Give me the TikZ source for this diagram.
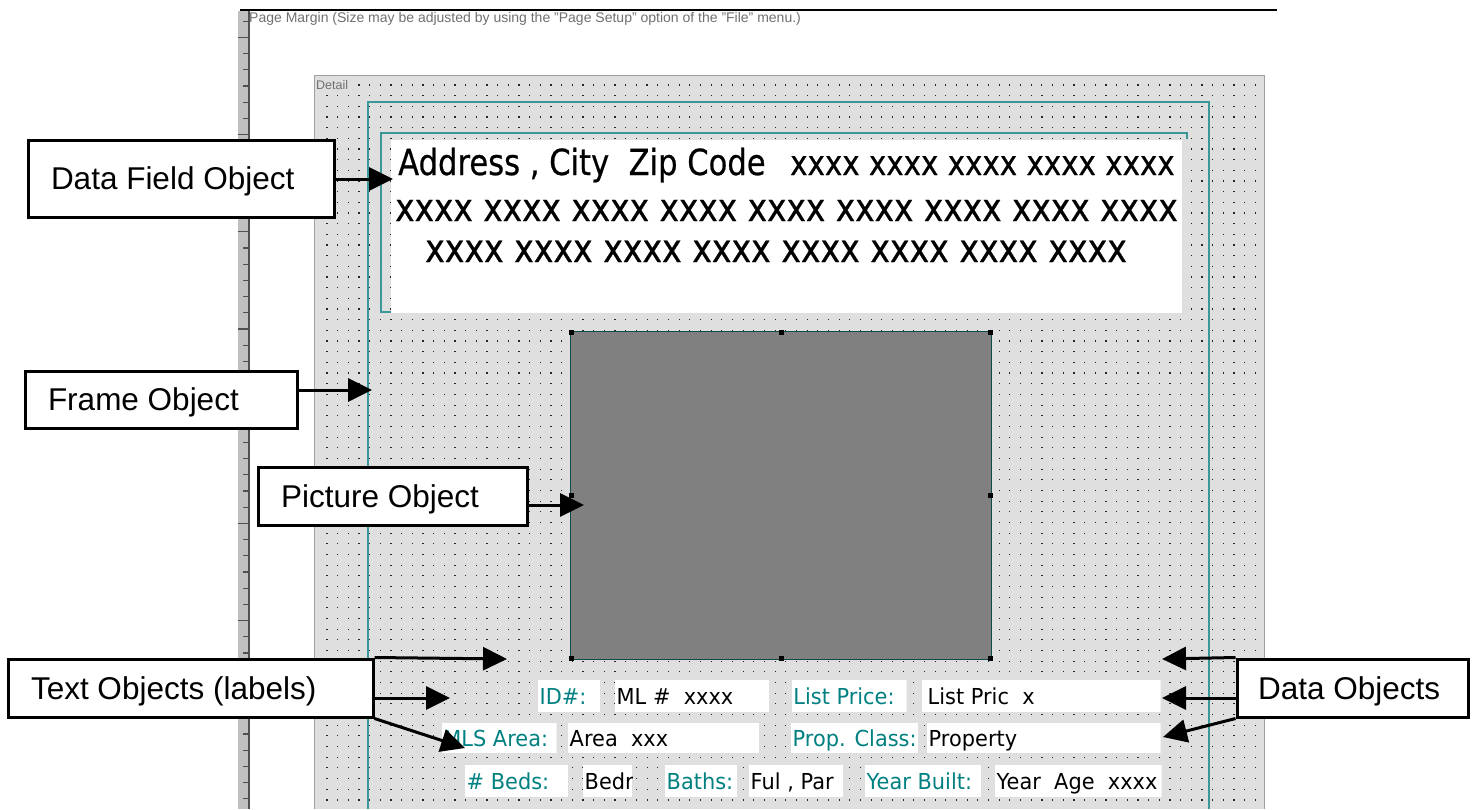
\documentclass[tikz,border=0pt]{standalone}
\usepackage{fontspec}
\usepackage{graphicx}
\setmainfont{Liberation Sans}
\newfontfamily\tah{DejaVu Sans}
\newfontfamily\tahb[FakeBold=0.6]{DejaVu Sans}
\usetikzlibrary{arrows.meta,calc}
\definecolor{tealtxt}{HTML}{008080}
\definecolor{frameteal}{HTML}{3A9898}
\definecolor{detailbg}{HTML}{DFDFDF}
\definecolor{detailborder}{HTML}{A0A0A0}
\definecolor{rulergray}{HTML}{C0C0C0}
\definecolor{rulerdark}{HTML}{505050}
\definecolor{uigray}{HTML}{707070}
\definecolor{picgray}{HTML}{808080}
\definecolor{picborder}{HTML}{0A4A4A}
\tikzset{
  dotrow/.style={draw=black!85, line width=1.2pt, dash pattern=on 1.2pt off 9.47pt},
  frameline/.style={draw=frameteal, line width=1.5pt},
  callout/.style={draw=black, line width=3pt, fill=white, inner xsep=23pt, inner ysep=0pt,
    font=\fontsize{31.5}{36}\selectfont, text height=22.5pt, text depth=0pt},
  conn/.style={draw=black, line width=3pt, -{Triangle[length=24pt,width=23pt]}},
  fld/.style={fill=white, inner sep=0pt, anchor=west, font=\tah\fontsize{22}{26}\selectfont,
    text height=18pt, text depth=2pt},
  handle/.style={fill=black, inner sep=0pt, minimum size=5pt},
  uitext/.style={text=uigray, inner sep=0pt, anchor=west, font=\fontsize{14}{16}\selectfont}
}
\newcommand\fieldbox[7]{%
  \begin{scope}
    \clip (#2,{#4-#5/2}) rectangle (#3,{#4+#5/2});
    \node[fld, text=#6, minimum height=#5pt] (#1) at (#2,#4)
      {\makebox[\dimexpr #3pt-#2pt\relax][l]{\hspace{1.5pt}\scalebox{0.95}[1]{#7}}};
  \end{scope}}
\begin{document}
\begin{tikzpicture}[x=1pt,y=-1pt]
\useasboundingbox (0,0) rectangle (1474,809);
\fill[white] (0,0) rectangle (1474,809);

% ruler
\fill[rulergray] (238,11) rectangle (248,809);
\draw[rulerdark, line width=2pt] (248.5,11) -- (248.5,809);
\foreach \k in {-19,...,29} {
  \pgfmathsetmacro\yy{329+16.2*\k}
  \pgfmathtruncatemacro\mm{mod(\k+60,6)}
  \ifnum\mm=0
    \draw[rulerdark, line width=1.2pt] (238,\yy) -- (248,\yy);
  \else
    \draw[rulerdark, line width=1.2pt] (243,\yy) -- (248,\yy);
  \fi
}
% top margin line
\draw[black, line width=1.2pt] (240,10) -- (1277,10);
\node[uitext] (margintext) at (249,19) {Page Margin (Size may be adjusted by using the "Page Setup" option of the "File" menu.)};

% detail section
\fill[detailbg] (314.5,75.5) rectangle (1264.5,809);
\draw[detailborder, line width=1.5pt] (314.5,809) -- (314.5,75.5) -- (1264.5,75.5) -- (1264.5,809);
\node[uitext, font=\fontsize{12.5}{14}\selectfont] (detailtext) at (316,85) {Detail};
\draw[dotrow] (358.4,85) -- (1262,85);
\foreach \r in {1,...,67} {
  \pgfmathsetmacro\yy{85+10.67*\r}
  \draw[dotrow] (326.4,\yy) -- (1262,\yy);
}

% frame object
\draw[frameline] (368,809) -- (368,102) -- (1209,102) -- (1209,809);

% data field object
\draw[frameline] (391,312) -- (381,312) -- (381,133) -- (1187,133) -- (1187,139);
\node[fill=white, inner sep=0pt, minimum width=791pt, minimum height=173pt, anchor=north west] (dfbox) at (391,140) {};
\node[anchor=base west, inner sep=0pt, font=\tahb\fontsize{36}{40}\selectfont] (line1a) at (398,175)
  {\scalebox{0.85}[1]{Address , City\ \ Zip Code}};
\node[anchor=base west, inner sep=0pt, font=\tahb\fontsize{34.5}{40}\selectfont] (line1b) at (790,175)
  {\scalebox{0.85}[1]{xxxx xxxx xxxx xxxx xxxx}};
\node[anchor=base west, inner sep=0pt, font=\tahb\fontsize{38.6}{44}\selectfont] (line2) at (395,221)
  {\scalebox{0.85}[1]{xxxx xxxx xxxx xxxx xxxx xxxx xxxx xxxx xxxx}};
\node[anchor=base west, inner sep=0pt, font=\tahb\fontsize{39}{44}\selectfont] (line3) at (425,262)
  {\scalebox{0.85}[1]{xxxx xxxx xxxx xxxx xxxx xxxx xxxx xxxx}};

% picture object
\node[fill=picgray, draw=picborder, line width=1.5pt, minimum width=421pt, minimum height=328pt, inner sep=0pt] (pic) at (781,495.5) {};
\node[handle] (h1) at ([shift={(1.5,1.5)}]pic.north west) {};
\node[handle] (h2) at ([shift={(0,1.5)}]pic.north) {};
\node[handle] (h3) at ([shift={(-1.5,1.5)}]pic.north east) {};
\node[handle] (h4) at ([shift={(1.5,0)}]pic.west) {};
\node[handle] (h5) at ([shift={(-1.5,0)}]pic.east) {};
\node[handle] (h6) at ([shift={(1.5,-1.5)}]pic.south west) {};
\node[handle] (h7) at ([shift={(0,-1.5)}]pic.south) {};
\node[handle] (h8) at ([shift={(-1.5,-1.5)}]pic.south east) {};

% fields row 1
\fieldbox{lid}{538}{600}{696}{32}{tealtxt}{ID\#:}
\fieldbox{vid}{615}{769}{696}{32}{black}{ML \#\ \ xxxx}
\fieldbox{llp}{791.7}{906.7}{696}{32}{tealtxt}{List Price:}
\fieldbox{vlp}{921.7}{1160.7}{696}{32}{black}{\hspace{4.5pt}List Pric\ \ x}
% row 2
\fieldbox{lmls}{441.7}{556.7}{738}{30}{tealtxt}{MLS Area:}
\fieldbox{vmls}{568}{759}{738}{30}{black}{Area\ \ xxx}
\fieldbox{lpc}{791}{918}{738}{30}{tealtxt}{Prop. Class:}
\fieldbox{vpc}{927}{1160.7}{738}{30}{black}{Property}
% row 3
\fieldbox{lbeds}{465}{568}{781}{32}{tealtxt}{\# Beds:}
\fieldbox{vbeds}{583}{632}{781}{32}{black}{Bedr}
\fieldbox{lbaths}{665}{737}{781}{32}{tealtxt}{Baths:}
\fieldbox{vbaths}{749}{843}{781}{32}{black}{Ful , Par}
\fieldbox{lyb}{865}{981}{781}{32}{tealtxt}{Year Built:}
\fieldbox{vyb}{995}{1161.7}{781}{32}{black}{Year\ \ Age\ \ xxxx}

% callouts
\node[callout, minimum height=77pt] (df) at (181,178.5) {\makebox[260pt][l]{Data Field Object}};
\node[callout, minimum height=57pt] (fr) at (161,399.5) {\makebox[226pt][l]{Frame Object}};
\node[callout, minimum height=58pt] (po) at (392.5,496) {\makebox[223pt][l]{Picture Object}};
\node[callout, minimum height=58pt] (to) at (190.5,688) {\makebox[319pt][l]{Text Objects (labels)}};
\node[callout, minimum height=58pt, inner xsep=21pt] (do) at (1352.5,688) {\makebox[189pt][l]{Data Objects}};

% connectors
\coordinate (dftip) at (393,179);
\coordinate (frtip) at (372,390);
\coordinate (potip) at (584,505);
\coordinate (tot1) at (507,659);
\coordinate (tot2) at (450,698);
\coordinate (tot3) at (465,748);
\coordinate (dot1) at (1162,659);
\coordinate (dot2) at (1162,698);
\coordinate (dot3) at (1163,737);
\draw[conn] (dftip -| df.east) -- (dftip);
\draw[conn] (frtip -| fr.east) -- (frtip);
\draw[conn] (potip -| po.east) -- (potip);
\draw[conn] (to.north east) -- (tot1);
\draw[conn] (tot2 -| to.east) -- (tot2);
\draw[conn] (to.south east) -- (tot3);
\draw[conn] (do.north west) -- (dot1);
\draw[conn] (dot2 -| do.west) -- (dot2);
\draw[conn] (do.south west) -- (dot3);
\end{tikzpicture}
\end{document}
